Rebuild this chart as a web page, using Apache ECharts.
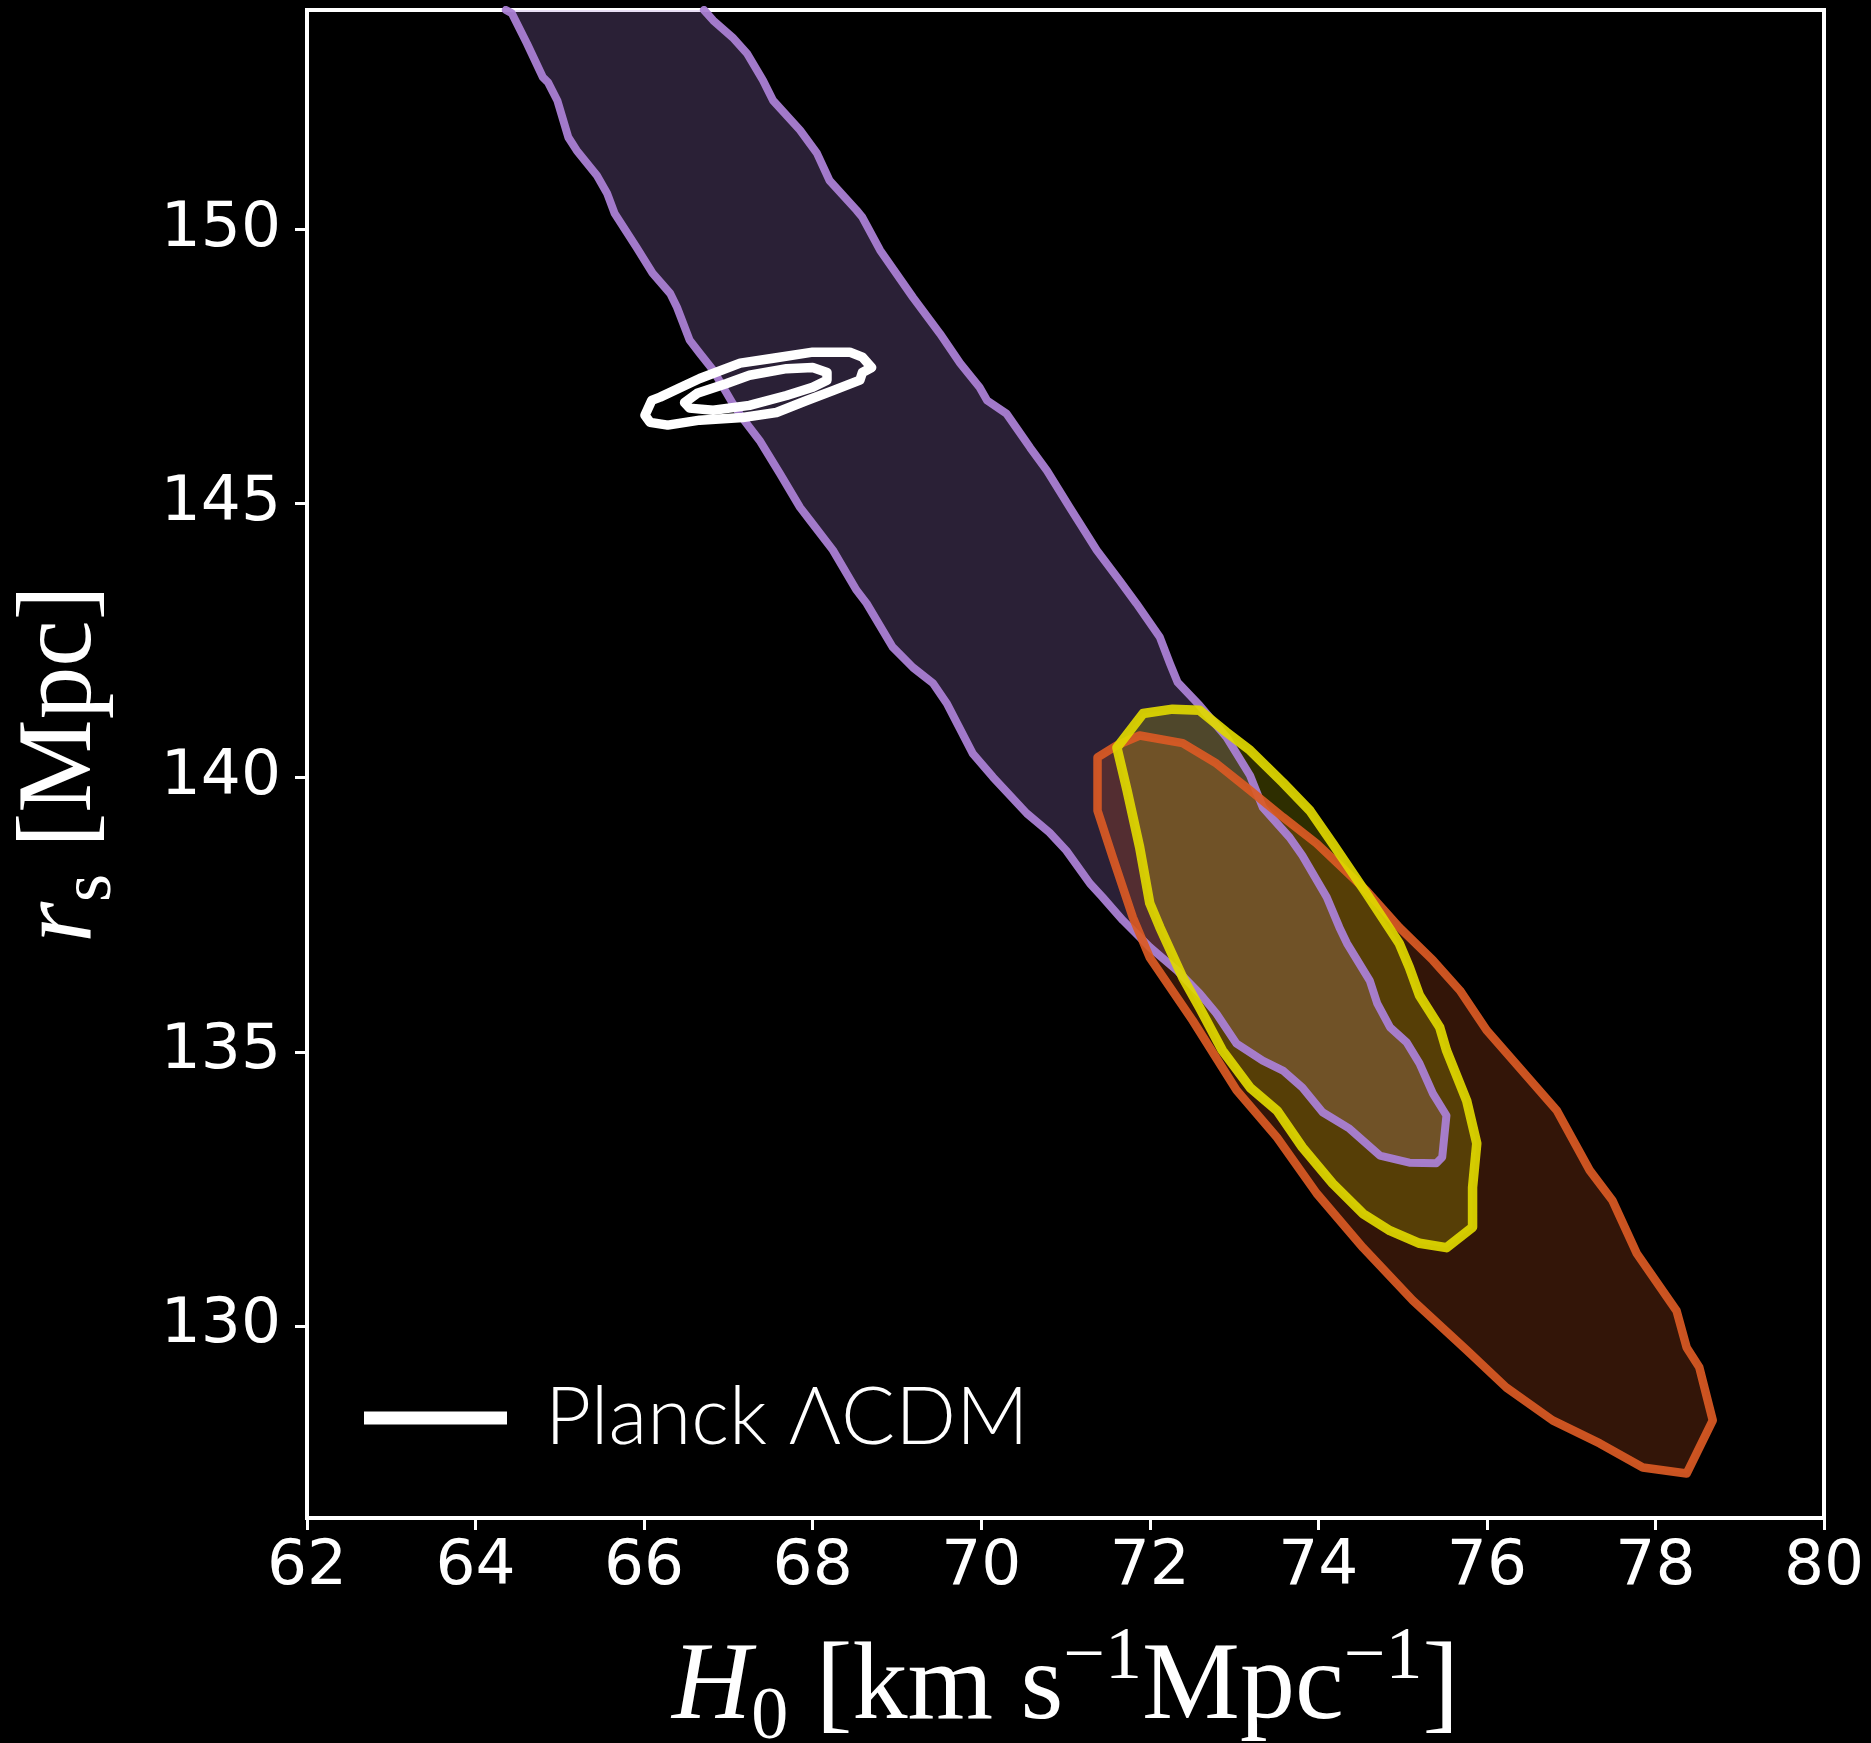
<!DOCTYPE html>
<html>
<head>
<meta charset="utf-8">
<script src="https://cdn.jsdelivr.net/npm/echarts@6/dist/echarts.min.js"></script>
<style>html,body{margin:0;padding:0;background:#000}#c{width:1871px;height:1743px}</style>
</head>
<body>
<div id="c"></div>
<script>
// ---- data (H0 [km/s/Mpc], r_s [Mpc]) ----
const xTicks = [62, 64, 66, 68, 70, 72, 74, 76, 78, 80];
const yTicks = [130, 135, 140, 145, 150];
const legendLabel = 'Planck ΛCDM';

// purple band (open at the top of the plot)
const purpleContour = [[64.36,154.0],[64.43,153.94],[64.61,153.39],[64.80,152.77],[64.86,152.68],[64.97,152.35],[65.10,151.68],[65.20,151.44],[65.44,150.98],[65.56,150.66],[65.65,150.29],[65.91,149.67],[66.10,149.20],[66.31,148.83],[66.39,148.58],[66.54,147.98],[66.66,147.74],[66.82,147.43],[67.05,146.83],[67.16,146.57],[67.37,146.15],[67.61,145.55],[67.85,144.93],[67.97,144.69],[68.24,144.15],[68.52,143.42],[68.64,143.18],[68.95,142.38],[69.19,142.01],[69.43,141.72],[69.59,141.36],[69.90,140.44],[70.14,140.01],[70.54,139.35],[70.81,139.00],[71.01,138.67],[71.29,138.07],[71.44,137.82],[71.68,137.40],[72.00,136.91],[72.32,136.49],[72.59,136.07],[72.79,135.70],[73.03,135.15],[73.34,134.84],[73.58,134.66],[73.81,134.35],[74.05,133.90],[74.37,133.60],[74.73,133.11],[75.08,132.98],[75.40,132.97],[75.47,133.08],[75.52,133.84],[75.36,134.24],[75.20,134.79],[75.05,135.17],[74.85,135.45],[74.70,135.88],[74.61,136.30],[74.34,136.98],[74.25,137.27],[74.10,137.82],[73.81,138.58],[73.66,138.91],[73.34,139.46],[73.19,140.04],[72.91,140.74],[72.59,141.32],[72.33,141.74],[72.24,142.08],[72.12,142.56],[71.84,143.18],[71.64,143.60],[71.37,144.15],[71.17,144.64],[71.05,144.93],[70.78,145.60],[70.58,146.02],[70.30,146.64],[70.07,146.88],[69.98,147.12],[69.75,147.56],[69.51,148.10],[69.19,148.76],[68.80,149.62],[68.59,150.22],[68.52,150.35],[68.20,150.89],[68.05,151.39],[67.85,151.81],[67.53,152.35],[67.41,152.72],[67.22,153.21],[67.05,153.50],[66.82,153.81],[66.71,154.0]];

const orangeContour = [[71.38,140.37],[71.61,140.59],[71.88,140.77],[72.39,140.63],[72.79,140.26],[73.19,139.77],[73.58,139.28],[73.98,138.80],[74.57,137.94],[74.96,137.27],[75.36,136.67],[75.68,136.12],[76.00,135.39],[76.62,134.30],[76.83,133.93],[77.22,132.84],[77.49,132.29],[77.78,131.32],[78.25,130.28],[78.37,129.61],[78.52,129.25],[78.68,128.28],[78.37,127.31],[77.85,127.42],[77.34,127.86],[76.78,128.28],[76.23,128.88],[75.76,129.56],[75.12,130.47],[74.53,131.43],[73.98,132.42],[73.51,133.44],[73.03,134.30],[72.51,135.57],[72.00,136.72],[71.80,137.45],[71.56,138.55],[71.38,139.40],[71.38,140.37]];

const yellowContour = [[71.61,140.55],[71.92,141.17],[72.27,141.25],[72.59,141.23],[72.91,140.83],[73.19,140.50],[73.58,139.91],[73.90,139.40],[74.17,138.80],[74.57,137.89],[74.96,136.98],[75.08,136.54],[75.20,136.03],[75.44,135.45],[75.52,135.03],[75.76,134.11],[75.88,133.33],[75.83,132.53],[75.83,131.80],[75.52,131.43],[75.20,131.51],[74.85,131.74],[74.53,132.05],[74.17,132.60],[73.81,133.26],[73.51,133.93],[73.19,134.35],[72.86,135.03],[72.59,135.81],[72.39,136.36],[72.12,137.27],[72.00,137.71],[71.88,138.73],[71.73,139.77],[71.61,140.55]];

const planckOuter = [[66.01,146.61],[66.09,146.88],[66.19,146.94],[66.66,147.28],[67.14,147.56],[67.53,147.65],[68.00,147.76],[68.44,147.76],[68.59,147.67],[68.70,147.48],[68.59,147.39],[68.56,147.25],[68.24,147.06],[67.93,146.88],[67.57,146.66],[67.17,146.57],[66.66,146.52],[66.28,146.43],[66.07,146.48],[66.01,146.61]];
const planckInner = [[66.48,146.84],[66.63,147.01],[66.98,147.19],[67.25,147.34],[67.69,147.46],[68.00,147.48],[68.17,147.39],[68.17,147.25],[68.00,147.12],[67.69,146.97],[67.25,146.79],[66.82,146.70],[66.54,146.74],[66.48,146.84]];

// ---- chart ----
function fillSeries(points, color, z) {
  return {
    type: 'custom', data: points, clip: true, z: z, silent: true,
    encode: { x: 0, y: 1 },
    renderItem: function (params, api) {
      if (params.dataIndex !== 0) return null;
      return {
        type: 'polygon',
        shape: { points: points.map(function (p) { return api.coord(p); }) },
        style: { fill: color, stroke: 'none' }
      };
    }
  };
}
function lineSeries(name, points, color, width, z) {
  return {
    name: name, type: 'line', data: points, symbol: 'none', z: z, silent: true,
    color: color, clip: true, smooth: false,
    lineStyle: { color: color, width: width, join: 'round', cap: 'round' }
  };
}

const serifFont = 'Liberation Serif';
const chart = echarts.init(document.getElementById('c'), null, { renderer: 'canvas' });
chart.setOption({
  animation: false,
  backgroundColor: '#000000',
  grid: { left: 307, right: 47, top: 10, bottom: 225, show: true, borderColor: '#ffffff', borderWidth: 4, outerBoundsMode: 'none' },
  legend: {
    data: [{ name: legendLabel, icon: 'rect' }],
    left: 359, top: 1373, itemWidth: 143, itemHeight: 13, selectedMode: false,
    textStyle: { color: '#ffffff', fontSize: 80, fontFamily: 'Lato', fontWeight: 300, padding: [0, 0, 0, 33] }
  },
  xAxis: {
    type: 'value', min: 62, max: 80, interval: 2,
    splitLine: { show: false },
    axisLine: { show: true, onZero: false, lineStyle: { color: '#ffffff', width: 4 } },
    axisTick: { show: true, length: 12, lineStyle: { color: '#ffffff', width: 3 } },
    axisLabel: { color: '#ffffff', fontSize: 63, fontFamily: 'DejaVu Sans', margin: 18,
      formatter: function (v) { return xTicks.indexOf(v) >= 0 ? String(v) : ''; } },
    name: '{i|H}{sub|0} [km s{sup|−1}Mpc{sup|−1}]',
    nameLocation: 'middle', nameGap: 104,
    nameTextStyle: {
      color: '#ffffff', fontFamily: serifFont, fontSize: 110, lineHeight: 134,
      rich: {
        i: { fontStyle: 'italic', fontFamily: serifFont, fontSize: 110, lineHeight: 134, color: '#ffffff' },
        sub: { fontFamily: serifFont, fontSize: 74, lineHeight: 74, verticalAlign: 'bottom', color: '#ffffff' },
        sup: { fontFamily: serifFont, fontSize: 74, lineHeight: 66, verticalAlign: 'top', color: '#ffffff' }
      }
    }
  },
  yAxis: {
    type: 'value', min: 126.5, max: 154,
    splitLine: { show: false },
    axisLine: { show: true, onZero: false, lineStyle: { color: '#ffffff', width: 4 } },
    axisTick: { show: true, length: 12, customValues: yTicks, lineStyle: { color: '#ffffff', width: 3 } },
    axisLabel: { color: '#ffffff', fontSize: 63, fontFamily: 'DejaVu Sans', margin: 26, customValues: yTicks },
    name: '{i|r}{sub|s} [Mpc]',
    nameLocation: 'middle', nameGap: 180, nameRotate: 90,
    nameTextStyle: {
      color: '#ffffff', fontFamily: serifFont, fontSize: 105, lineHeight: 130,
      rich: {
        i: { fontStyle: 'italic', fontFamily: serifFont, fontSize: 105, lineHeight: 130, color: '#ffffff' },
        sub: { fontFamily: serifFont, fontSize: 72, lineHeight: 72, verticalAlign: 'bottom', color: '#ffffff' }
      }
    }
  },
  series: [
    fillSeries(purpleContour, 'rgba(168,128,214,0.25)', 1),
    fillSeries(orangeContour, 'rgba(221,90,35,0.23)', 2),
    fillSeries(yellowContour, 'rgba(228,228,0,0.2)', 3),
    lineSeries('purple', purpleContour, 'rgba(170,128,212,0.95)', 8, 4),
    lineSeries('orange', orangeContour, 'rgba(218,90,36,0.92)', 8.5, 5),
    lineSeries('yellow', yellowContour, 'rgba(224,216,0,0.92)', 9.5, 6),
    lineSeries(legendLabel, planckOuter, '#ffffff', 9.5, 7),
    lineSeries(legendLabel, planckInner, '#ffffff', 9.5, 7)
  ]
});
</script>
</body>
</html>
